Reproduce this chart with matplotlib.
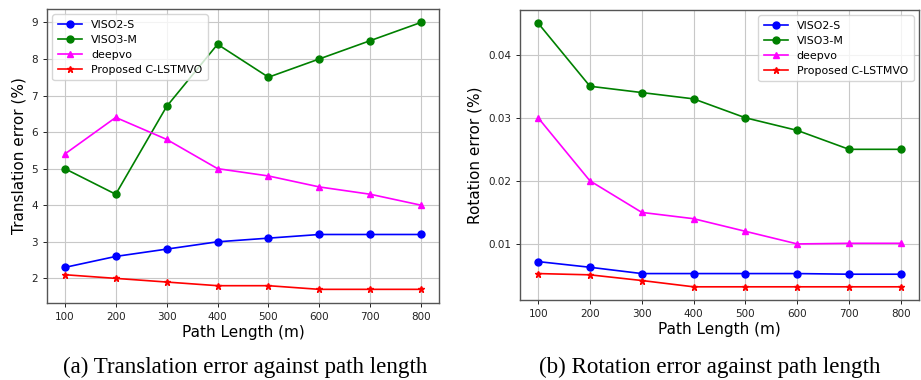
import matplotlib
matplotlib.use("Agg")
import matplotlib.pyplot as plt

path_length = [100, 200, 300, 400, 500, 600, 700, 800]

trans_viso2s = [2.3, 2.6, 2.8, 3.0, 3.1, 3.2, 3.2, 3.2]
trans_viso3m = [5.0, 4.3, 6.7, 8.4, 7.5, 8.0, 8.5, 9.0]
trans_deepvo = [5.4, 6.4, 5.8, 5.0, 4.8, 4.5, 4.3, 4.0]
trans_proposed = [2.1, 2.0, 1.9, 1.8, 1.8, 1.7, 1.7, 1.7]

rot_viso2s = [0.0072, 0.0063, 0.0053, 0.0053, 0.0053, 0.0053, 0.0052, 0.0052]
rot_viso3m = [0.045, 0.035, 0.034, 0.033, 0.030, 0.028, 0.025, 0.025]
rot_deepvo = [0.030, 0.020, 0.015, 0.014, 0.012, 0.010, 0.0101, 0.0101]
rot_proposed = [0.0053, 0.0051, 0.0042, 0.0032, 0.0032, 0.0032, 0.0032, 0.0032]

labels = ["VISO2-S", "VISO3-M", "deepvo", "Proposed C-LSTMVO"]
captions = ["(a) Translation error against path length",
            "(b) Rotation error against path length"]

W, H = 921, 380
fig = plt.figure(figsize=(W / 100, H / 100), dpi=100)

def box(l, r, t, b):
    return [l / W, (H - b) / H, (r - l) / W, (b - t) / H]

ax1 = fig.add_axes(box(47, 439, 9, 302.7))
ax2 = fig.add_axes(box(520, 919, 10, 300))

styles = [
    dict(color="blue", marker="o", markersize=5),
    dict(color="green", marker="o", markersize=5),
    dict(color="magenta", marker="^", markersize=5),
    dict(color="red", marker="*", markersize=5),
]

def draw(ax, series, ylabel, legend_loc, ylab_x):
    for s, lab, st in zip(series, labels, styles):
        ax.plot(path_length, s, label=lab, linewidth=1.2, **st)
    ax.grid(True, color="#c8c8c8", linewidth=0.8)
    ax.set_axisbelow(True)
    ax.set_xticks(path_length)
    ax.tick_params(labelsize=7.5, length=3, width=0.7, colors="#222222")
    for sp in ax.spines.values():
        sp.set_color("#555555")
        sp.set_linewidth(1.0)
    ax.set_xlabel("Path Length (m)", fontsize=11)
    ax.xaxis.set_label_coords(0.5, -0.103)
    ax.xaxis.label.set_va("center")
    ax.set_ylabel(ylabel, fontsize=11)
    ax.yaxis.set_label_coords(ylab_x, 0.5)
    ax.yaxis.label.set_va("center")
    ax.legend(loc=legend_loc, fontsize=7.9, handlelength=2.2,
              borderpad=0.5, labelspacing=0.45)

draw(ax1, [trans_viso2s, trans_viso3m, trans_deepvo, trans_proposed],
     "Translation error (%)", "upper left", -0.071)
draw(ax2, [rot_viso2s, rot_viso3m, rot_deepvo, rot_proposed],
     "Rotation error (%)", "upper right", -0.113)
ax2.set_yticks([0.01, 0.02, 0.03, 0.04])

fig.text(245 / W, 1 - 367 / H, captions[0], ha="center", va="center",
         fontsize=16.6, family="Liberation Serif")
fig.text(710 / W, 1 - 367 / H, captions[1], ha="center", va="center",
         fontsize=16.6, family="Liberation Serif")

fig.savefig("out.png", dpi=100, facecolor="white")
